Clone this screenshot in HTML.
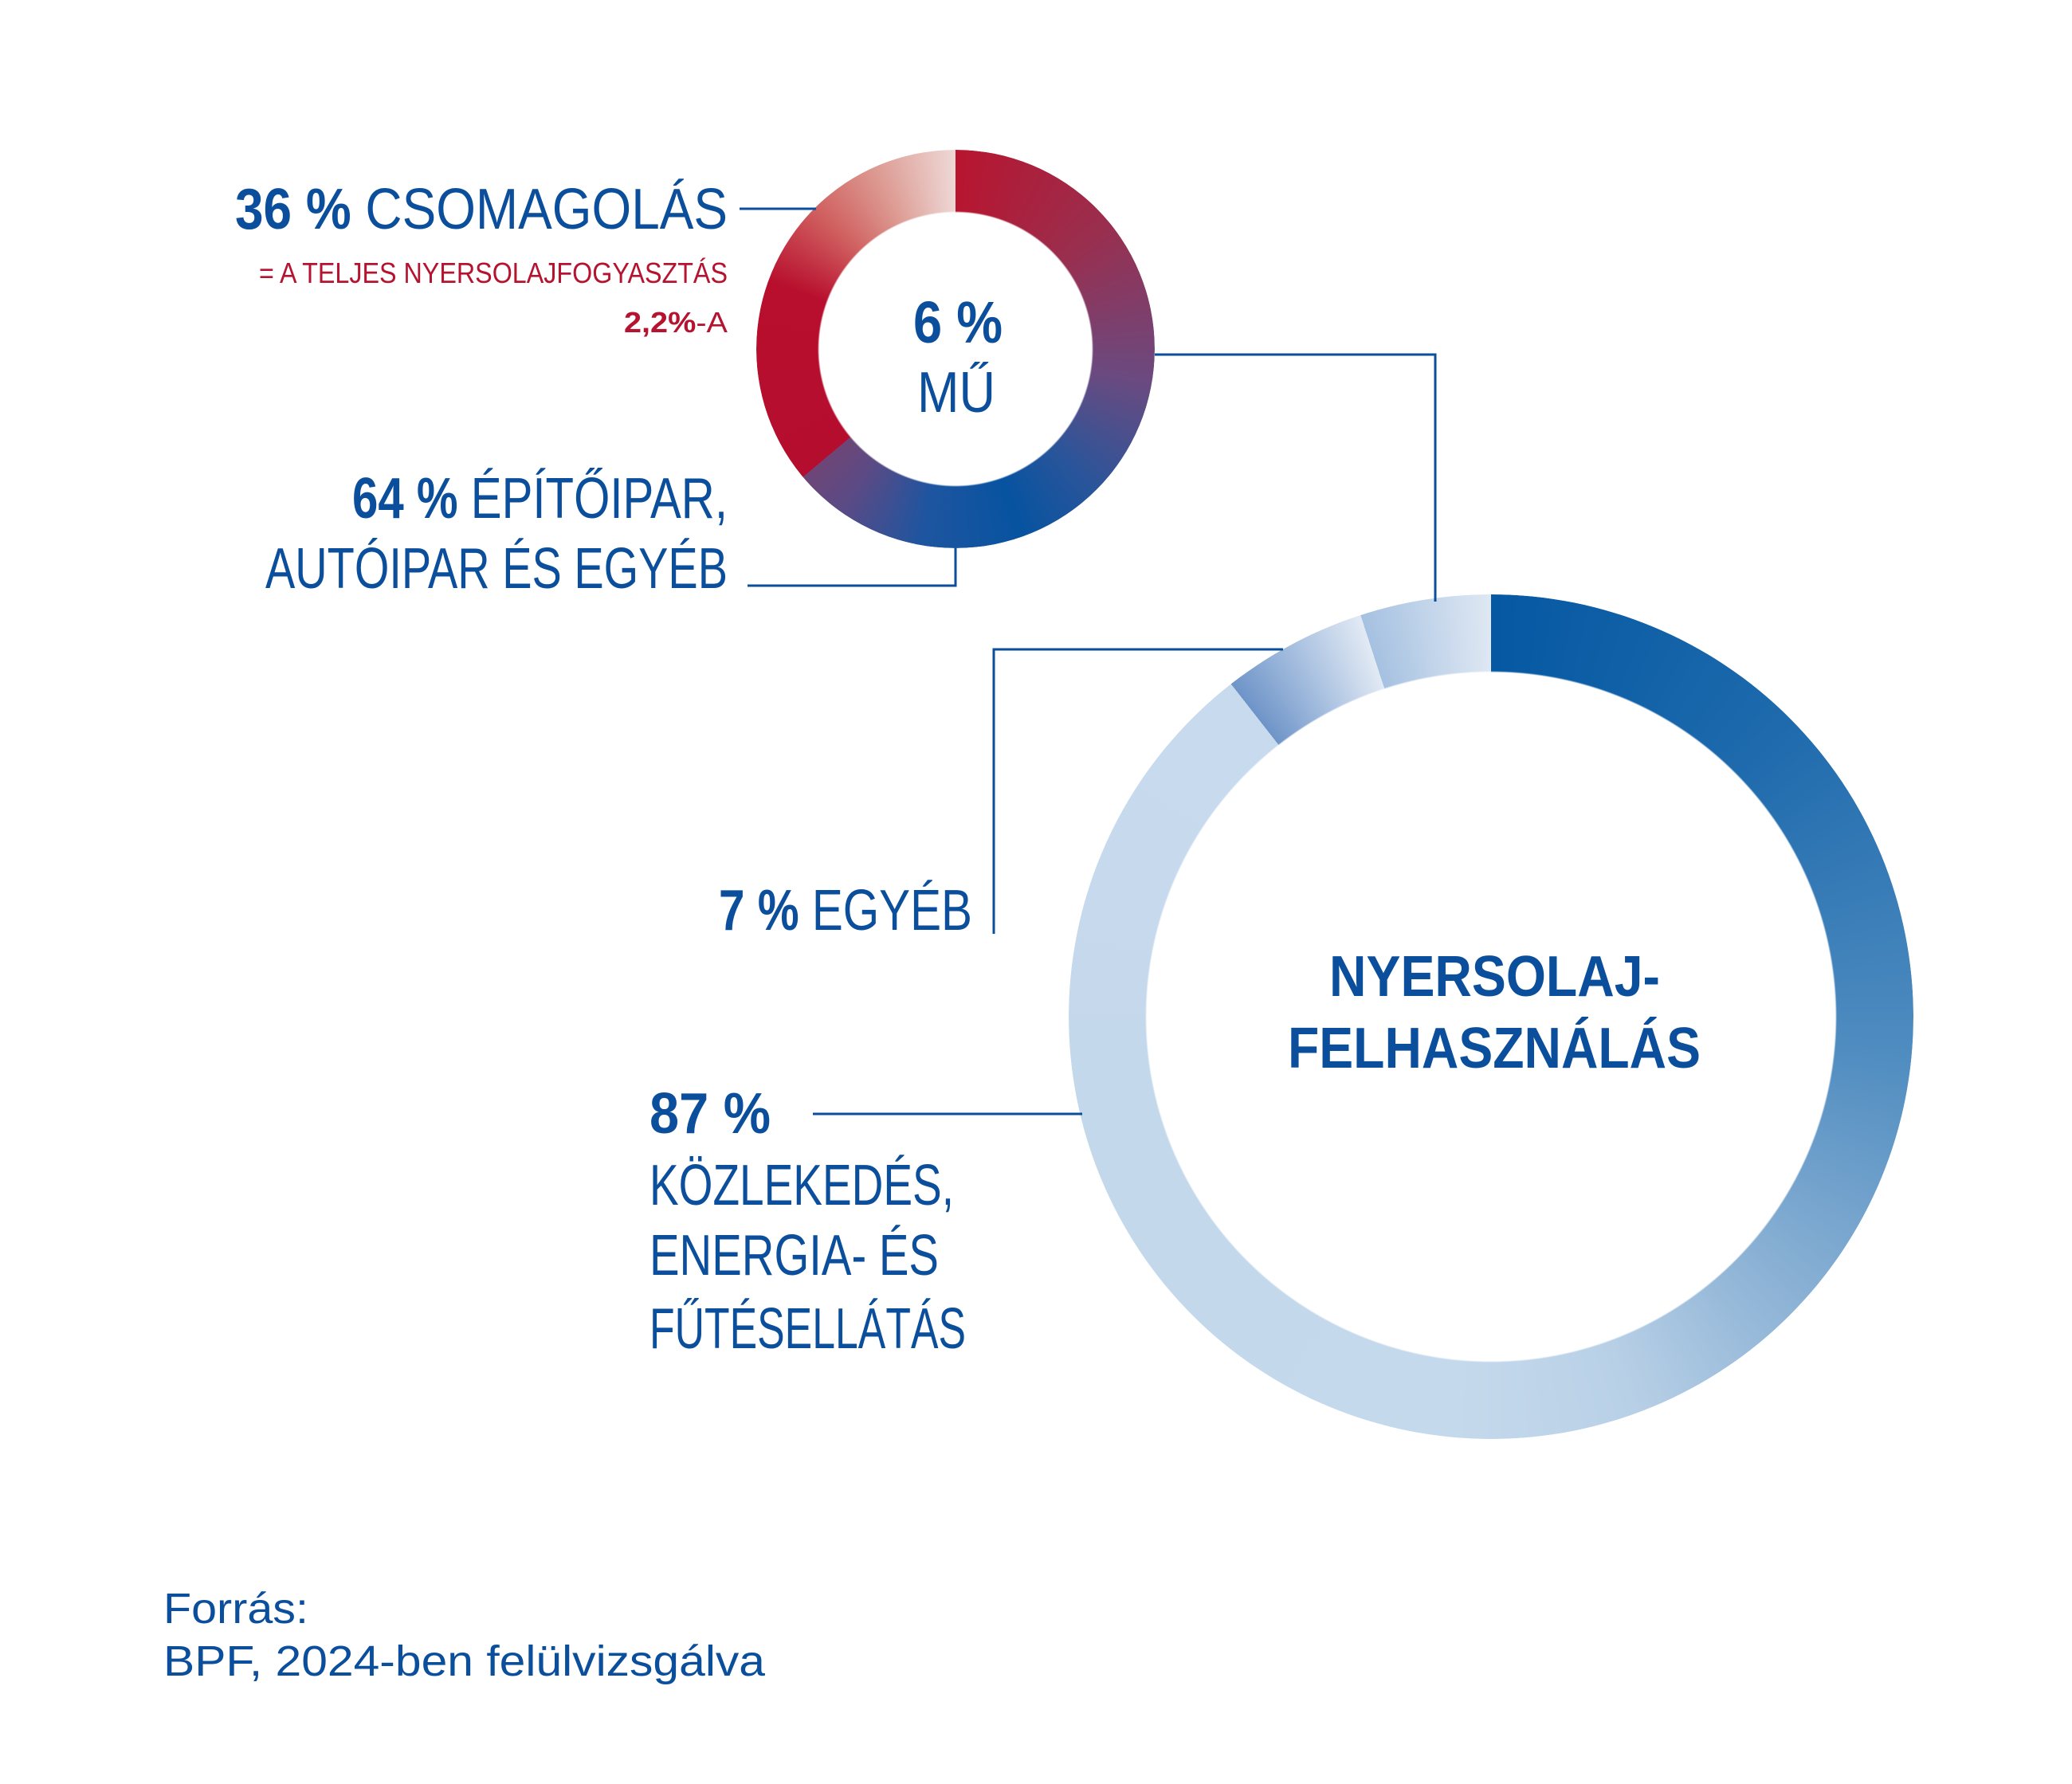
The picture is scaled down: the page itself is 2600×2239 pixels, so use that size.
<!DOCTYPE html>
<html><head><meta charset="utf-8"><style>
html,body{margin:0;padding:0;background:#fff}
#w{position:relative;width:2600px;height:2239px;overflow:hidden;background:#fff}
.d{position:absolute;border-radius:50%}
#s{left:949px;top:188px;width:500px;height:500px;
background:conic-gradient(from 0deg,#b8152f 0deg,#9a2e4e 50deg,#6a4a80 100deg,#2a559a 135deg,#0753a0 160deg,#1e55a0 190deg,#5a4a85 215deg,#6e4677 230deg,#b50d2e 230deg,#b80f2e 290deg,#d06060 315deg,#dc9890 335deg,#eed8d6 360deg);
-webkit-mask:radial-gradient(circle,transparent 171px,#000 173px);mask:radial-gradient(circle,transparent 171px,#000 173px)}
#clip{position:absolute;left:0;top:0;width:2405px;height:1808px;overflow:hidden}
#b{left:1341px;top:746px;width:1060px;height:1060px;
background:conic-gradient(from 0deg,#0558a2 0deg,#1e6aad 45deg,#4f8cc0 95deg,#8fb4d6 135deg,#b8d0e6 160deg,#c5d9ec 185deg,#c4d8ec 260deg,#c8daee 322deg,#6e94c8 322deg,#a8c0e0 332deg,#e2eaf4 342deg,#a5c1e1 342deg,#dfe8f3 360deg);
-webkit-mask:radial-gradient(circle,transparent 432px,#000 434px);mask:radial-gradient(circle,transparent 432px,#000 434px)}
svg{position:absolute;left:0;top:0}
text{font-family:"Liberation Sans",sans-serif;fill:#0b4f9c}
.b{font-weight:bold}
</style></head><body><div id="w">
<div class="d" id="s"></div>
<div id="clip"><div class="d" id="b"></div></div>
<svg width="2600" height="2239" viewBox="0 0 2600 2239">
<g fill="none" stroke="#0b4f9c" stroke-width="3">
<polyline points="928,262 1024,262"/>
<polyline points="938,735 1199,735 1199,688"/>
<polyline points="1449,445 1801,445 1801,755"/>
<polyline points="1610,815 1247,815 1247,1172"/>
<polyline points="1020,1398 1358,1398"/>
</g>
<text x="295" y="287" font-size="72" textLength="618" lengthAdjust="spacingAndGlyphs"><tspan class="b">36 %</tspan> CSOMAGOLÁS</text>
<text x="325" y="355" font-size="36" textLength="588" lengthAdjust="spacingAndGlyphs" style="fill:#b5132f">= A TELJES NYERSOLAJFOGYASZTÁS</text>
<text x="783" y="417" font-size="36" textLength="130" lengthAdjust="spacingAndGlyphs" style="fill:#b5132f"><tspan class="b">2,2%</tspan>-A</text>
<text x="1146" y="430" font-size="74" class="b" textLength="112" lengthAdjust="spacingAndGlyphs">6 %</text>
<text x="1151" y="517" font-size="72" textLength="98" lengthAdjust="spacingAndGlyphs">MŰ</text>
<text x="442" y="650" font-size="72" textLength="471" lengthAdjust="spacingAndGlyphs"><tspan class="b">64 %</tspan> ÉPÍTŐIPAR,</text>
<text x="333" y="738" font-size="72" textLength="580" lengthAdjust="spacingAndGlyphs">AUTÓIPAR ÉS EGYÉB</text>
<text x="902" y="1167" font-size="72" textLength="318" lengthAdjust="spacingAndGlyphs"><tspan class="b">7 %</tspan> EGYÉB</text>
<text x="815" y="1422" font-size="72" class="b" textLength="152" lengthAdjust="spacingAndGlyphs">87 %</text>
<text x="815" y="1512" font-size="72" textLength="382" lengthAdjust="spacingAndGlyphs">KÖZLEKEDÉS,</text>
<text x="815" y="1600" font-size="72" textLength="363" lengthAdjust="spacingAndGlyphs">ENERGIA- ÉS</text>
<text x="815" y="1692" font-size="72" textLength="397" lengthAdjust="spacingAndGlyphs">FŰTÉSELLÁTÁS</text>
<text x="1668" y="1250" font-size="72" class="b" textLength="415" lengthAdjust="spacingAndGlyphs">NYERSOLAJ-</text>
<text x="1616" y="1340" font-size="72" class="b" textLength="518" lengthAdjust="spacingAndGlyphs">FELHASZNÁLÁS</text>
<text x="205" y="2037" font-size="54" textLength="182" lengthAdjust="spacingAndGlyphs">Forrás:</text>
<text x="205" y="2103" font-size="54" textLength="755" lengthAdjust="spacingAndGlyphs">BPF, 2024-ben felülvizsgálva</text>
</svg>
</div></body></html>
